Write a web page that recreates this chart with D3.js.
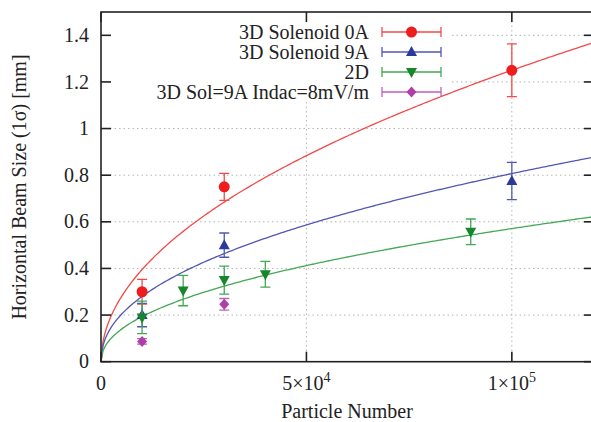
<!DOCTYPE html>
<html>
<head>
<meta charset="utf-8">
<script src="https://cdn.jsdelivr.net/npm/d3@7"></script>
<style>
  body { margin: 0; background: #fff; font-family: 'Liberation Serif', serif !important; }
  svg { display: block; }
  svg text, svg tspan { font-family: 'Liberation Serif', serif !important; }
</style>
</head>
<body>
<svg id="chart" width="591" height="422" font-family="Liberation Serif"></svg>
<script>
// series: particle number, beam size, error
const sol0N = [1e4, 3e4, 1e5];
const sol0Y = [0.30, 0.75, 1.25];
const sol0E = [0.053, 0.058, 0.113];

const sol9N = [1e4, 3e4, 1e5];
const sol9Y = [0.20, 0.50, 0.775];
const sol9E = [0.05, 0.052, 0.08];

const twoDN = [1e4, 2e4, 3e4, 4e4, 9e4];
const twoDY = [0.19, 0.305, 0.35, 0.375, 0.557];
const twoDE = [0.07, 0.065, 0.06, 0.055, 0.055];

const indacN = [1e4, 3e4];
const indacY = [0.087, 0.246];
const indacE = [0.012, 0.025];

// fit curves y = A * (N / 1e5)^B
const fitA = [1.25, 0.807, 0.571];
const fitB = [0.5, 0.46, 0.47];

const yTicks = [0, 0.2, 0.4, 0.6, 0.8, 1, 1.2, 1.4];
const xTicks = [0, 5e4, 1e5];
const xTickLabels = [["0", ""], ["5×10", "4"], ["1×10", "5"]];

const series = [
    { name: "3D Solenoid 0A", n: sol0N, y: sol0Y, e: sol0E, col: "#ee1c1c", lcol: "#f24a4a", shape: "circle", fit: 0 },
    { name: "3D Solenoid 9A", n: sol9N, y: sol9Y, e: sol9E, col: "#2a3a9c", lcol: "#5058b4", shape: "up", fit: 1 },
    { name: "2D", n: twoDN, y: twoDY, e: twoDE, col: "#18862a", lcol: "#44a854", shape: "down", fit: 2 },
    { name: "3D Sol=9A Indac=8mV/m", n: indacN, y: indacY, e: indacE, col: "#b03ea8", lcol: "#c060bc", shape: "diamond", fit: -1 }
];

const FONT = "'Liberation Serif', serif";

const svg = d3.select("#chart");
const margin = { top: 12, left: 101, right: -3, bottom: 60.3 };
const innerW = 591 - margin.left - margin.right;
const innerH = 422 - margin.top - margin.bottom;

const x = d3.scaleLinear().domain([0, 1.2e5]).range([0, innerW]);
const y = d3.scaleLinear().domain([0, 1.5]).range([innerH, 0]);

const g = svg.append("g").attr("transform", `translate(${margin.left},${margin.top})`);

function label(sel) {
    return sel.attr("font-family", "Liberation Serif")
        .style("font-family", FONT, "important")
        .attr("font-size", 20)
        .attr("fill", "#222");
}

// grid
g.selectAll(".gy").data(yTicks.filter(d => d > 0))
    .join("line")
    .attr("x1", 0).attr("x2", innerW)
    .attr("y1", d => y(d)).attr("y2", d => y(d))
    .attr("stroke", "#b4b4b4").attr("stroke-width", 1).attr("stroke-dasharray", "1.5,3");
g.selectAll(".gx").data(xTicks.filter(d => d > 0))
    .join("line")
    .attr("y1", 0).attr("y2", innerH)
    .attr("x1", d => x(d)).attr("x2", d => x(d))
    .attr("stroke", "#b4b4b4").attr("stroke-width", 1).attr("stroke-dasharray", "1.5,3");

// key background (opaque)
g.append("rect")
    .attr("x", 0).attr("y", 0)
    .attr("width", 351).attr("height", 90)
    .attr("fill", "#fff");

// fit curves
const fitLine = d3.line().x(d => x(d[0])).y(d => y(d[1]));
series.filter(s => s.fit >= 0).forEach(s => {
    const A = fitA[s.fit], B = fitB[s.fit];
    const pts = d3.range(0, 1.2e5 + 1, 500).map(n => [n, A * Math.pow(n / 1e5, B)]);
    g.append("path")
        .datum(pts)
        .attr("fill", "none")
        .attr("stroke", s.lcol)
        .attr("stroke-width", 1.3)
        .attr("d", fitLine);
});

function marker(sel, shape, col) {
    if (shape === "circle") {
        sel.append("circle").attr("r", 5.5).attr("fill", col);
    } else if (shape === "up") {
        sel.append("path").attr("d", "M0,-6L5.5,4L-5.5,4Z").attr("fill", col);
    } else if (shape === "down") {
        sel.append("path").attr("d", "M0,6L5.5,-4L-5.5,-4Z").attr("fill", col);
    } else {
        sel.append("path").attr("d", "M0,-5.5L5,0L0,5.5L-5,0Z").attr("fill", col);
    }
}

// points with error bars
series.forEach(s => {
    const data = s.n.map((n, i) => ({ n, v: s.y[i], e: s.e[i] }));
    const pg = g.append("g");
    data.forEach(d => {
        const px = x(d.n), top = y(d.v + d.e), bot = y(d.v - d.e);
        pg.append("path")
            .attr("d", `M${px},${top}V${bot}M${px - 5},${top}H${px + 5}M${px - 5},${bot}H${px + 5}`)
            .attr("fill", "none").attr("stroke", s.lcol).attr("stroke-width", 1.3);
        const m = pg.append("g").attr("transform", `translate(${px},${y(d.v)})`);
        marker(m, s.shape, s.col);
    });
});

// legend
const legY = [32, 52, 72, 92];
series.forEach((s, i) => {
    const ly = legY[i] - margin.top;
    g.append("text")
        .attr("x", 369 - margin.left).attr("y", ly + 6.6)
        .attr("text-anchor", "end")
        .call(label)
        .text(s.name);
    const x1 = 382 - margin.left, x2 = 441 - margin.left;
    g.append("path")
        .attr("d", `M${x1},${ly}H${x2}M${x1},${ly - 5}V${ly + 5}M${x2},${ly - 5}V${ly + 5}`)
        .attr("fill", "none").attr("stroke", s.lcol).attr("stroke-width", 1.3);
    const m = g.append("g").attr("transform", `translate(${(x1 + x2) / 2},${ly})`);
    marker(m, s.shape, s.col);
});

// frame and ticks
g.append("rect")
    .attr("x", 0).attr("y", 0).attr("width", innerW).attr("height", innerH)
    .attr("fill", "none").attr("stroke", "#222").attr("stroke-width", 1.6);

yTicks.forEach(t => {
    g.append("line").attr("x1", 0).attr("x2", 10).attr("y1", y(t)).attr("y2", y(t))
        .attr("stroke", "#222").attr("stroke-width", 1.6);
    g.append("line").attr("x1", innerW - 10).attr("x2", innerW).attr("y1", y(t)).attr("y2", y(t))
        .attr("stroke", "#222").attr("stroke-width", 1.6);
    g.append("text")
        .attr("x", -12).attr("y", y(t) + 6.6)
        .attr("text-anchor", "end")
        .call(label)
        .text(d3.format("~g")(t));
});

xTicks.forEach((t, i) => {
    g.append("line").attr("x1", x(t)).attr("x2", x(t)).attr("y1", innerH).attr("y2", innerH - 10)
        .attr("stroke", "#222").attr("stroke-width", 1.6);
    g.append("line").attr("x1", x(t)).attr("x2", x(t)).attr("y1", 0).attr("y2", 10)
        .attr("stroke", "#222").attr("stroke-width", 1.6);
    const txt = g.append("text")
        .attr("x", x(t)).attr("y", innerH + 28)
        .attr("text-anchor", "middle")
        .call(label);
    txt.append("tspan").text(xTickLabels[i][0]);
    if (xTickLabels[i][1]) {
        txt.append("tspan").attr("dy", -8).attr("font-size", 14).text(xTickLabels[i][1]);
    }
});

// axis titles
svg.append("text")
    .attr("x", 347).attr("y", 418)
    .attr("text-anchor", "middle")
    .call(label)
    .text("Particle Number");

svg.append("text")
    .attr("transform", "translate(26,187) rotate(-90)")
    .attr("text-anchor", "middle")
    .call(label)
    .text("Horizontal Beam Size (1σ) [mm]");
</script>
</body>
</html>
